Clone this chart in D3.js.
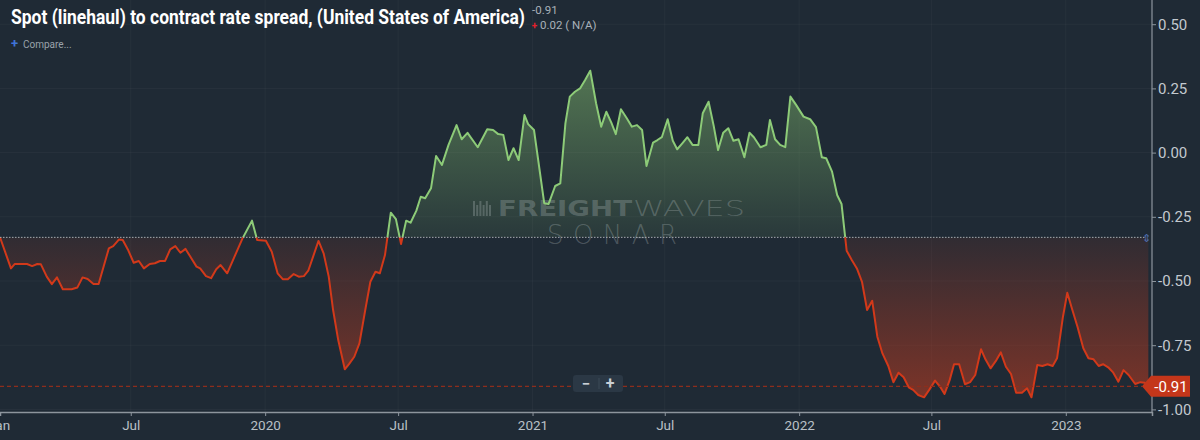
<!DOCTYPE html>
<html>
<head>
<meta charset="utf-8">
<script src="https://cdn.jsdelivr.net/npm/d3@7"></script>
<style>
  html, body { margin: 0; padding: 0; background: #1f2a35; overflow: hidden; }
  svg { display: block; }
</style>
</head>
<body>
<div id="chart"></div>
<script>
var dates = [
  "2019-01-03","2019-01-18","2019-01-23","2019-02-09","2019-02-16","2019-02-23","2019-02-28","2019-03-08","2019-03-15","2019-03-22",
  "2019-03-30","2019-04-11","2019-04-19","2019-04-26","2019-05-03","2019-05-11","2019-05-18","2019-06-01","2019-06-07","2019-06-15",
  "2019-06-20","2019-06-27","2019-07-05","2019-07-12","2019-07-19","2019-07-27","2019-08-03","2019-08-10","2019-08-17","2019-08-24",
  "2019-08-31","2019-09-07","2019-09-14","2019-09-20","2019-09-29","2019-10-04","2019-10-12","2019-10-19","2019-10-26","2019-11-01",
  "2019-11-10","2019-12-01","2019-12-14","2019-12-21","2020-01-02","2020-01-10","2020-01-18","2020-01-25","2020-02-01","2020-02-09",
  "2020-02-16","2020-02-23","2020-02-29","2020-03-14","2020-03-21","2020-03-28","2020-04-03","2020-04-10","2020-04-19","2020-04-25",
  "2020-05-02","2020-05-09","2020-05-17","2020-05-24","2020-05-31","2020-06-06","2020-06-13","2020-06-21","2020-06-28","2020-07-05",
  "2020-07-12","2020-07-18","2020-07-26","2020-08-01","2020-08-07","2020-08-15","2020-08-22","2020-08-30","2020-09-08","2020-09-19",
  "2020-09-26","2020-10-04","2020-10-18","2020-10-31","2020-11-08","2020-11-15","2020-11-22","2020-11-29","2020-12-06","2020-12-13",
  "2020-12-21","2020-12-26","2021-01-03","2021-01-17","2021-01-23","2021-02-01","2021-02-08","2021-02-15","2021-02-21","2021-02-28",
  "2021-03-07","2021-03-14","2021-03-21","2021-03-29","2021-04-05","2021-04-12","2021-04-19","2021-04-25","2021-05-02","2021-05-10",
  "2021-05-17","2021-05-24","2021-05-31","2021-06-06","2021-06-15","2021-06-21","2021-06-27","2021-07-05","2021-07-12","2021-07-18",
  "2021-07-25","2021-08-01","2021-08-08","2021-08-16","2021-08-22","2021-08-30","2021-09-06","2021-09-12","2021-09-19","2021-09-26",
  "2021-10-03","2021-10-10","2021-10-18","2021-10-25","2021-10-31","2021-11-09","2021-11-17","2021-11-22","2021-11-29","2021-12-06",
  "2021-12-13","2021-12-20","2021-12-28","2022-01-07","2022-01-16","2022-01-24","2022-02-01","2022-02-07","2022-02-15","2022-02-22",
  "2022-02-28","2022-03-07","2022-03-14","2022-03-21","2022-03-28","2022-04-04","2022-04-11","2022-04-18","2022-04-25","2022-05-03",
  "2022-05-10","2022-05-17","2022-05-24","2022-05-31","2022-06-06","2022-06-13","2022-06-21","2022-06-28","2022-07-06","2022-07-13",
  "2022-07-19","2022-07-26","2022-08-01","2022-08-08","2022-08-16","2022-08-23","2022-08-30","2022-09-07","2022-09-13","2022-09-20",
  "2022-09-28","2022-10-04","2022-10-11","2022-10-18","2022-10-25","2022-11-02","2022-11-09","2022-11-15","2022-11-23","2022-11-30",
  "2022-12-07","2022-12-14","2022-12-20","2022-12-28","2023-01-03","2023-01-10","2023-01-17","2023-01-25","2023-02-01","2023-02-08",
  "2023-02-15","2023-02-21","2023-02-28","2023-03-07","2023-03-14","2023-03-21","2023-03-28","2023-04-06","2023-04-13","2023-04-19",
  "2023-04-24"
];

var values = [
  -0.330,-0.451,-0.434,-0.434,-0.442,-0.434,-0.435,-0.483,-0.512,-0.486,
  -0.532,-0.532,-0.525,-0.486,-0.492,-0.512,-0.512,-0.373,-0.364,-0.338,
  -0.340,-0.377,-0.429,-0.422,-0.451,-0.434,-0.431,-0.422,-0.422,-0.377,
  -0.364,-0.390,-0.375,-0.403,-0.444,-0.451,-0.481,-0.489,-0.454,-0.438,
  -0.470,-0.334,-0.265,-0.340,-0.343,-0.386,-0.470,-0.493,-0.493,-0.473,
  -0.483,-0.481,-0.460,-0.344,-0.392,-0.483,-0.613,-0.730,-0.844,-0.823,
  -0.795,-0.743,-0.613,-0.503,-0.464,-0.470,-0.399,-0.234,-0.259,-0.356,
  -0.265,-0.273,-0.226,-0.172,-0.178,-0.139,-0.013,-0.048,0.030,0.107,
  0.052,0.077,0.021,0.091,0.088,0.072,0.069,-0.029,0.017,-0.029,
  0.146,0.111,0.088,-0.197,-0.200,-0.130,-0.120,0.114,0.218,0.237,
  0.250,0.283,0.319,0.192,0.101,0.159,0.116,0.072,0.169,0.134,
  0.101,0.107,0.088,-0.052,0.039,0.049,0.060,0.130,0.046,0.013,
  0.036,0.060,0.030,0.030,0.153,0.198,0.104,0.010,0.077,0.095,
  0.046,0.052,-0.018,0.077,0.060,0.021,0.030,0.127,0.052,0.030,
  0.021,0.218,0.185,0.140,0.130,0.099,-0.018,-0.022,-0.074,-0.165,
  -0.200,-0.382,-0.418,-0.451,-0.503,-0.613,-0.577,-0.717,-0.782,-0.831,
  -0.894,-0.857,-0.875,-0.914,-0.924,-0.944,-0.953,-0.924,-0.888,-0.912,
  -0.940,-0.886,-0.824,-0.824,-0.902,-0.894,-0.866,-0.766,-0.805,-0.840,
  -0.808,-0.778,-0.834,-0.862,-0.935,-0.935,-0.918,-0.953,-0.827,-0.831,
  -0.824,-0.831,-0.801,-0.641,-0.546,-0.613,-0.678,-0.762,-0.801,-0.805,
  -0.831,-0.824,-0.836,-0.857,-0.892,-0.847,-0.866,-0.901,-0.894,-0.896,
  -0.910
];

var tickDates = ["2019-01-01","2019-07-01","2020-01-01","2020-07-01","2021-01-01","2021-07-01","2022-01-01","2022-07-01","2023-01-01"];
var tickLabels = ["Jan","Jul","2020","Jul","2021","Jul","2022","Jul","2023"];
var yTicks = [0.5, 0.25, 0, -0.25, -0.5, -0.75, -1];

var titleText = "Spot (linehaul) to contract rate spread, (United States of America)";
var lastText = "-0.91";
var changeText = "0.02 ( N/A)";

var width = 1200, height = 440;
var plotRight = 1152, axisY = 412;

var parse = d3.timeParse("%Y-%m-%d");
var data = dates.map(function(d, i) { return { date: parse(d), value: values[i] }; });
var lastValue = values[values.length - 1];
var baseValue = values[0];

var x = d3.scaleTime()
  .domain([parse("2019-01-03"), parse("2023-04-29")])
  .range([0, plotRight]);

var y = d3.scaleLinear()
  .domain([-1, 0.5])
  .range([409.4, 24.2]);

var baseY = y(baseValue);

var svg = d3.select("#chart").append("svg")
  .attr("width", width)
  .attr("height", height)
  .style("font-family", "Roboto, 'Noto Sans', sans-serif");

svg.append("rect")
  .attr("width", width).attr("height", height)
  .attr("fill", "#1f2a35");

var defs = svg.append("defs");

var gGreen = defs.append("linearGradient")
  .attr("id", "gradGreen")
  .attr("gradientUnits", "userSpaceOnUse")
  .attr("x1", 0).attr("x2", 0)
  .attr("y1", y(0.32)).attr("y2", baseY);
gGreen.append("stop").attr("offset", "0%").attr("stop-color", "#86c070").attr("stop-opacity", 0.5);
gGreen.append("stop").attr("offset", "100%").attr("stop-color", "#86c070").attr("stop-opacity", 0.1);

var gRed = defs.append("linearGradient")
  .attr("id", "gradRed")
  .attr("gradientUnits", "userSpaceOnUse")
  .attr("x1", 0).attr("x2", 0)
  .attr("y1", baseY).attr("y2", y(-0.96));
gRed.append("stop").attr("offset", "0%").attr("stop-color", "#c83c1e").attr("stop-opacity", 0.1);
gRed.append("stop").attr("offset", "100%").attr("stop-color", "#c83c1e").attr("stop-opacity", 0.55);

defs.append("clipPath").attr("id", "clipAbove")
  .append("rect").attr("x", 0).attr("y", 0).attr("width", plotRight).attr("height", baseY);
defs.append("clipPath").attr("id", "clipBelow")
  .append("rect").attr("x", 0).attr("y", baseY).attr("width", plotRight).attr("height", height - baseY);

// grid
svg.append("g")
  .selectAll("line")
  .data(yTicks)
  .enter()
  .append("line")
  .attr("x1", 0).attr("x2", plotRight)
  .attr("y1", function(d) { return y(d); })
  .attr("y2", function(d) { return y(d); })
  .attr("stroke", "#ffffff").attr("stroke-opacity", 0.035);

svg.append("g")
  .selectAll("line")
  .data(tickDates)
  .enter()
  .append("line")
  .attr("x1", function(d) { return x(parse(d)); })
  .attr("x2", function(d) { return x(parse(d)); })
  .attr("y1", 0).attr("y2", axisY)
  .attr("stroke", "#ffffff").attr("stroke-opacity", 0.035);

// areas + line
var area = d3.area()
  .x(function(d) { return x(d.date); })
  .y0(baseY)
  .y1(function(d) { return y(d.value); });

var line = d3.line()
  .x(function(d) { return x(d.date); })
  .y(function(d) { return y(d.value); });

svg.append("path").datum(data)
  .attr("clip-path", "url(#clipAbove)")
  .attr("d", area).attr("fill", "url(#gradGreen)");
svg.append("path").datum(data)
  .attr("clip-path", "url(#clipBelow)")
  .attr("d", area).attr("fill", "url(#gradRed)");

// watermark
var wm = svg.append("g").attr("fill", "#b4bebe").attr("fill-opacity", 0.3);
[0, 1, 2, 3, 4, 5].forEach(function(i) {
  wm.append("rect")
    .attr("x", 473 + i * 3.2).attr("y", 201 + (i % 2 ? 4 : 0))
    .attr("width", 2).attr("height", i % 2 ? 11 : 15);
});
wm.append("text")
  .attr("x", 498).attr("y", 216)
  .attr("font-family", "'DejaVu Sans', sans-serif").attr("font-weight", "bold")
  .attr("font-size", "21px")
  .attr("textLength", 134).attr("lengthAdjust", "spacingAndGlyphs")
  .text("FREIGHT");
wm.append("text")
  .attr("x", 633).attr("y", 216)
  .attr("font-family", "'DejaVu Sans', sans-serif").attr("font-weight", 200)
  .attr("font-size", "21px")
  .attr("textLength", 112).attr("lengthAdjust", "spacingAndGlyphs")
  .text("WAVES");
wm.append("text")
  .attr("x", 547).attr("y", 243.5)
  .attr("font-family", "'DejaVu Sans', sans-serif").attr("font-weight", 200)
  .attr("font-size", "26px")
  .attr("textLength", 130).attr("lengthAdjust", "spacing")
  .text("SONAR");

svg.append("path").datum(data)
  .attr("clip-path", "url(#clipAbove)")
  .attr("d", line).attr("fill", "none")
  .attr("stroke", "#8dcb78").attr("stroke-width", 2).attr("stroke-linejoin", "round");
svg.append("path").datum(data)
  .attr("clip-path", "url(#clipBelow)")
  .attr("d", line).attr("fill", "none")
  .attr("stroke", "#d2391a").attr("stroke-width", 2).attr("stroke-linejoin", "round");

// baseline + last value line
svg.append("line")
  .attr("x1", 0).attr("x2", plotRight - 6)
  .attr("y1", baseY).attr("y2", baseY)
  .attr("stroke", "#c4cad0").attr("stroke-opacity", 0.8)
  .attr("stroke-dasharray", "1.5,1.5");
svg.append("text")
  .attr("x", plotRight - 6).attr("y", baseY + 4.5)
  .attr("text-anchor", "middle").attr("font-size", "11px")
  .attr("fill", "#4f6fae").text("\u21D5");

svg.append("line")
  .attr("x1", 0).attr("x2", plotRight - 10)
  .attr("y1", y(lastValue)).attr("y2", y(lastValue))
  .attr("stroke", "#8e2d1c").attr("stroke-width", 1.3)
  .attr("stroke-dasharray", "4,3");

// axes
var xAxis = d3.axisBottom(x)
  .tickValues(tickDates.map(parse))
  .tickFormat(function(d, i) { return tickLabels[i]; })
  .tickSize(4);

var gx = svg.append("g")
  .attr("transform", "translate(0," + axisY + ")")
  .call(xAxis);
gx.select(".domain").attr("stroke", "#8d959d").attr("stroke-width", 1.5);
gx.selectAll(".tick line").attr("stroke", "#8d959d");
gx.selectAll(".tick text")
  .attr("fill", "#b9c0c6").attr("font-size", "13.5px")
  .attr("font-family", "Roboto, sans-serif").attr("dy", "0.8em");

var yAxis = d3.axisRight(y)
  .tickValues(yTicks)
  .tickFormat(d3.format(".2f"))
  .tickSize(4)
  .tickPadding(2);

var gy = svg.append("g")
  .attr("transform", "translate(" + plotRight + ",0)")
  .call(yAxis);
gy.select(".domain").attr("stroke", "#8d959d").attr("stroke-width", 1.2)
  .attr("d", "M0,0V" + (axisY + 0.5) + "H-" + plotRight);
gy.selectAll(".tick line").attr("stroke", "#8d959d");
gy.selectAll(".tick text")
  .attr("fill", "#c3c9cf").attr("font-size", "15px")
  .attr("font-family", "Roboto, sans-serif")
  .text(function(d) { return d3.format(".2f")(d).replace("\u2212", "-"); });

// last value tag
var ly = y(lastValue);
svg.append("path")
  .attr("d", "M" + (plotRight - 10) + "," + ly + "L" + (plotRight - 1) + "," + (ly - 10.5) +
    "H1190V" + (ly + 10.5) + "H" + (plotRight - 1) + "Z")
  .attr("fill", "#c4361a");
svg.append("text")
  .attr("x", 1171).attr("y", ly + 5.5)
  .attr("text-anchor", "middle").attr("fill", "#ffffff")
  .attr("font-size", "15px").text(lastText);

// zoom buttons
var zb = svg.append("g");
zb.append("rect")
  .attr("x", 573).attr("y", 375).attr("width", 50).attr("height", 17).attr("rx", 3)
  .attr("fill", "#2b3845");
zb.append("line")
  .attr("x1", 599).attr("x2", 599).attr("y1", 378).attr("y2", 389)
  .attr("stroke", "#3d4b58");
zb.append("text").attr("x", 586).attr("y", 388.5).attr("text-anchor", "middle")
  .attr("fill", "#c9cfd5").attr("font-size", "15px").attr("font-weight", "bold").text("\u2212");
zb.append("text").attr("x", 610).attr("y", 389).attr("text-anchor", "middle")
  .attr("fill", "#c9cfd5").attr("font-size", "16px").attr("font-weight", "bold").text("+");

// title
svg.append("text")
  .attr("x", 11).attr("y", 24)
  .attr("fill", "#ffffff").attr("font-weight", "bold")
  .attr("font-family", "'Liberation Sans Narrow', Roboto, sans-serif")
  .attr("font-size", "20px")
  .attr("textLength", 514).attr("lengthAdjust", "spacingAndGlyphs")
  .text(titleText);
svg.append("text")
  .attr("x", 532).attr("y", 14)
  .attr("fill", "#a9b1b9").attr("font-size", "11.5px")
  .text(lastText);
svg.append("text")
  .attr("x", 534.5).attr("y", 29)
  .attr("text-anchor", "middle")
  .attr("fill", "#e5202c").attr("font-size", "10px").attr("font-weight", "bold")
  .text("+");
svg.append("text")
  .attr("x", 540).attr("y", 29)
  .attr("fill", "#a9b1b9").attr("font-size", "11.5px")
  .text(changeText);
svg.append("text")
  .attr("x", 11).attr("y", 48)
  .attr("fill", "#3f74d8").attr("font-size", "13px").attr("font-weight", "bold")
  .text("+");
svg.append("text")
  .attr("x", 23).attr("y", 47.5)
  .attr("fill", "#9aa3ab").attr("font-size", "10px")
  .text("Compare...");
</script>
</body>
</html>
